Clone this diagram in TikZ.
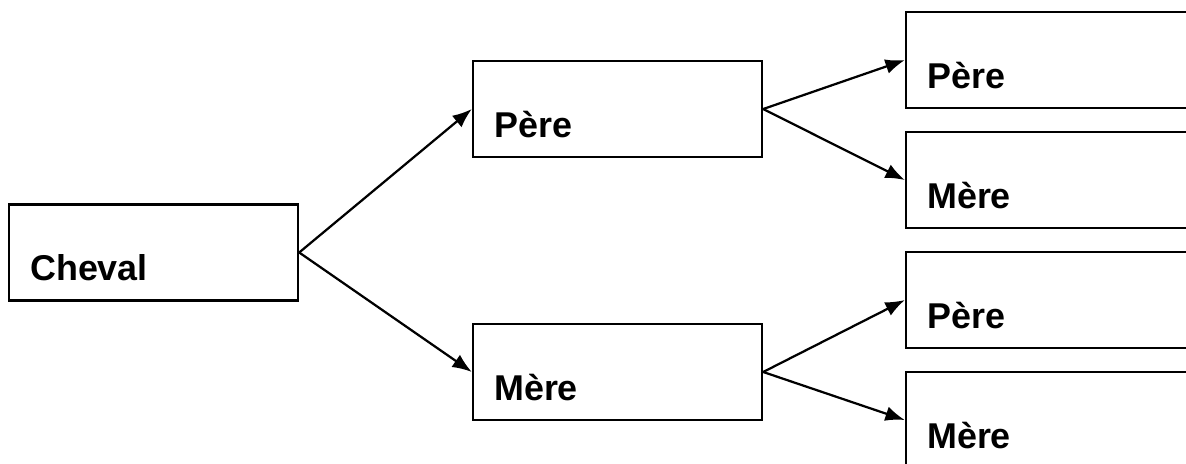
\documentclass[tikz,border=0pt]{standalone}
\usepackage{fontspec}
\setmainfont{Liberation Sans}
\usetikzlibrary{arrows.meta}
\tikzset{
  horsebox/.style={draw, line width=0.75pt, rectangle, inner xsep=0.25cm, inner ysep=0pt,
    text width=2.90cm, align=left, text height=0.895cm, text depth=0.235cm,
    font=\fontsize{12}{14}\selectfont\bfseries},
  link/.style={-{Latex[length=6.5pt,width=5pt]}, line width=0.75pt}
}
\begin{document}
\begin{tikzpicture}
        \clip (0,0) rectangle (13.946,-5.456);
        \node[horsebox] (cheval) at (1.805,-2.969) {Cheval};
        \node[horsebox] (pere) at (7.261,-1.282) {Père};
        \node[horsebox] (mere) at (7.261,-4.374) {Mère};
        \node[horsebox] (perepere) at (12.353,-0.706) {Père};
        \node[horsebox] (peremere) at (12.353,-2.117) {Mère};
        \node[horsebox] (merepere) at (12.353,-3.528) {Père};
        \node[horsebox] (meremere) at (12.353,-4.939) {Mère};
        \draw[link](cheval.east) -- (pere.west);
        \draw[link](cheval.east) -- (mere.west);
        \draw[link](pere.east) -- (perepere.west);
        \draw[link](pere.east) -- (peremere.west);
        \draw[link](mere.east) -- (merepere.west);
        \draw[link](mere.east) -- (meremere.west);
        
    \end{tikzpicture}
\end{document}
